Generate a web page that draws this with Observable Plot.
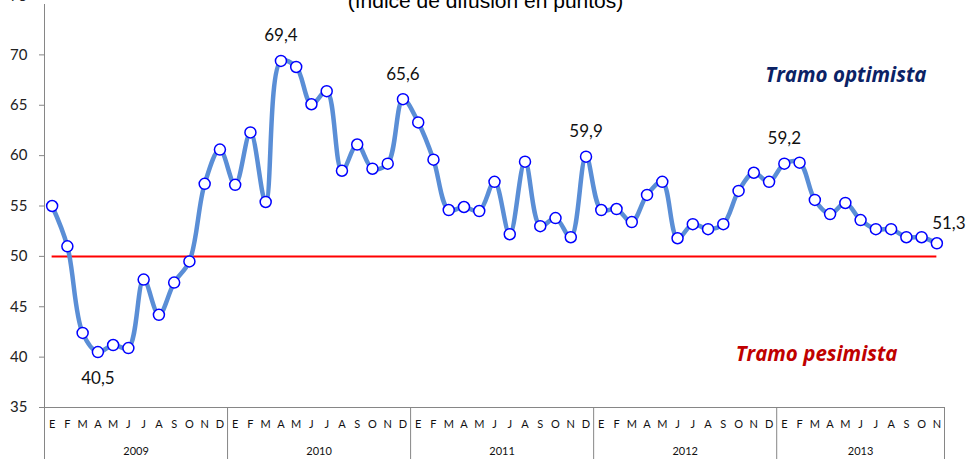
<!DOCTYPE html>
<html>
<head>
<meta charset="utf-8">
<script src="https://cdn.jsdelivr.net/npm/d3@7"></script>
<script src="https://cdn.jsdelivr.net/npm/@observablehq/plot@0.6"></script>
<style>
  html, body { margin: 0; padding: 0; background: #fff; }
  #chart svg { display: block; }
</style>
</head>
<body>
<div id="chart"></div>
<script>
// ---- data ----
const monthLetters = ["E","F","M","A","M","J","J","A","S","O","N","D"];
const years = [2009, 2010, 2011, 2012, 2013];
const v2009 = [55.0, 51.0, 42.4, 40.5, 41.2, 40.9, 47.7, 44.2, 47.4, 49.5, 57.2, 60.6];
const v2010 = [57.1, 62.3, 55.4, 69.4, 68.8, 65.1, 66.4, 58.5, 61.1, 58.7, 59.2, 65.6];
const v2011 = [63.3, 59.6, 54.6, 54.9, 54.5, 57.4, 52.2, 59.4, 53.0, 53.8, 51.9, 59.9];
const v2012 = [54.6, 54.7, 53.4, 56.1, 57.4, 51.8, 53.2, 52.7, 53.2, 56.5, 58.3, 57.4];
const v2013 = [59.2, 59.3, 55.6, 54.2, 55.3, 53.6, 52.7, 52.7, 51.9, 51.9, 51.3];
const seriesByYear = [v2009, v2010, v2011, v2012, v2013];
const yTicks = [35, 40, 45, 50, 55, 60, 65, 70];
const threshold = 50;
const title = "(índice de difusión en puntos)";
// labelled points: [year, month index, placement]
const highlights = [
  [2009, 3, "below"],
  [2010, 3, "above"],
  [2010, 11, "above"],
  [2011, 11, "above"],
  [2013, 0, "above"],
  [2013, 10, "right"]
];

// ---- build table ----
const data = [];
seriesByYear.forEach((vals, yi) => {
  vals.forEach((v, m) => data.push({year: years[yi], m, i: data.length, x: data.length + 0.5, value: v}));
});
const n = data.length;
const yearInfo = [];
{
  let start = 0;
  seriesByYear.forEach((vals, yi) => {
    yearInfo.push({year: years[yi], start, end: start + vals.length, mid: start + vals.length / 2});
    start += vals.length;
  });
}
const boundaries = [0, ...yearInfo.map(d => d.end)];
const yearByMid = new Map(yearInfo.map(d => [d.mid, String(d.year)]));
const fmt = v => v.toFixed(1).replace(".", ",");
const hl = highlights.map(([yr, m, pos]) => {
  const d = data.find(e => e.year === yr && e.m === m);
  return {...d, pos, label: fmt(d.value)};
});

const font = "Lato, 'Open Sans', sans-serif";
const gray = "#868686";

const plot = Plot.plot({
  width: 967,
  height: 459,
  marginLeft: 44,
  marginRight: 23,
  marginTop: 4,
  marginBottom: 52,
  style: {fontFamily: font, background: "#fff", overflow: "hidden"},
  x: {domain: [0, n], axis: null},
  y: {domain: [35, 75], axis: null},
  marks: [
    // title (clipped at top, as in the source image)
    Plot.text([title], {frameAnchor: "top", lineAnchor: "bottom", dy: 3.5, dx: -9,
      fontSize: 21, fontFamily: "'Liberation Sans', Arial, sans-serif", fill: "#000"}),
    // y axis
    Plot.ruleX([0], {stroke: gray, strokeWidth: 1}),
    Plot.axisY(yTicks, {label: null, tickSize: 5, tickPadding: 12, fontSize: 15, stroke: gray, fill: "#222"}),
    Plot.axisY([75], {label: null, tickSize: 5, tickPadding: 12, fontSize: 15, stroke: gray, fill: "#222", dy: -8}),
    // x axis baseline and year separators
    Plot.ruleY([35], {stroke: gray, strokeWidth: 1}),
    Plot.axisX(boundaries, {label: null, tickSize: 52, tickFormat: () => "", stroke: gray}),
    Plot.axisX(data.map(d => d.x), {label: null, tickSize: 0, tickPadding: 13, fontSize: 11, fill: "#111",
      tickFormat: v => monthLetters[data[Math.floor(v)].m]}),
    Plot.axisX(yearInfo.map(d => d.mid), {label: null, tickSize: 0, tickPadding: 40, fontSize: 11, fill: "#111",
      tickFormat: v => yearByMid.get(v)}),
    // threshold line
    Plot.ruleY([threshold], {x1: data[0].x, x2: data[n - 1].x, stroke: "#FF0000", strokeWidth: 2}),
    // series
    Plot.line(data, {x: "x", y: "value", stroke: "#5A8ED6", strokeWidth: 4.5, curve: "catmull-rom"}),
    Plot.dot(data, {x: "x", y: "value", r: 5.5, fill: "#fff", stroke: "#0000FF", strokeWidth: 1.5}),
    // value labels
    Plot.text(hl.filter(d => d.pos === "above"), {x: "x", y: "value", text: "label", dy: -25, fontSize: 17, fill: "#111"}),
    Plot.text(hl.filter(d => d.pos === "below"), {x: "x", y: "value", text: "label", dy: 26, fontSize: 17, fill: "#111"}),
    Plot.text(hl.filter(d => d.pos === "right"), {x: "x", y: "value", text: "label", dx: 12, dy: -20, fontSize: 17, fill: "#111"}),
    // zone annotations
    Plot.text(["Tramo optimista"], {x: 57.82, y: 67.26, textAnchor: "end", lineAnchor: "bottom",
      fontSize: 20.5, fontFamily: "'Open Sans', sans-serif", fontWeight: "bold", fontStyle: "italic", fill: "#0B2265"}),
    Plot.text(["Tramo pesimista"], {x: 55.92, y: 39.57, textAnchor: "end", lineAnchor: "bottom",
      fontSize: 20.5, fontFamily: "'Open Sans', sans-serif", fontWeight: "bold", fontStyle: "italic", fill: "#C00000"})
  ]
});
document.getElementById("chart").appendChild(plot);
</script>
</body>
</html>
